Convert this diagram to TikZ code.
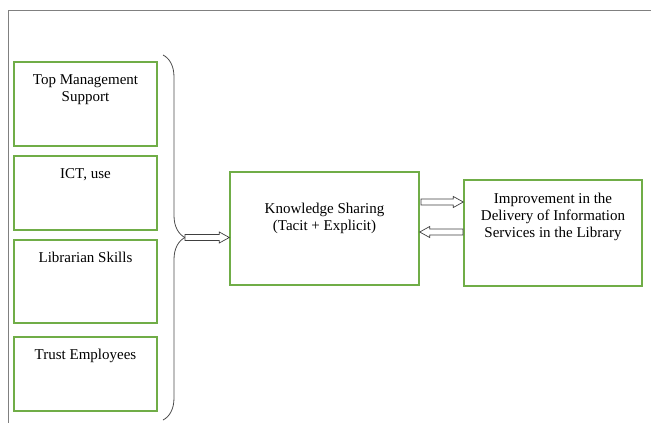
\documentclass[tikz,border=0pt]{standalone}
\usepackage{fontspec}
\setmainfont{Liberation Serif}
\usepackage{tikz}
\usetikzlibrary{calc,positioning,decorations.pathreplacing}

\definecolor{boxgreen}{RGB}{112,173,71}
\tikzset{
  factor/.style={draw=boxgreen, line width=1.4pt, minimum width=143pt, inner sep=0pt},
  txt/.style={align=center, inner sep=0pt, font=\fontsize{15}{17}\selectfont},
  hollow/.style={draw=black!75, line width=0.7pt, fill=white, line join=miter},
}
% block arrow: tail, head, head length (+ right, - left)
\newcommand{\hollowarrow}[3]{%
  \draw[hollow] ($#1+(0,-3)$) -- ($#2+(#3,-3)$) -- ($#2+(#3,-5.5)$) -- #2
    -- ($#2+(#3,5.5)$) -- ($#2+(#3,3)$) -- ($#1+(0,3)$) -- cycle;}

\begin{document}
\begin{tikzpicture}[x=1pt, y=-1pt]
\useasboundingbox (0,0) rectangle (651,423);
\draw[black!50, line width=1pt] (8,423) -- (8,10) -- (651,10);
% left factors
\foreach \n/\cy/\h/\t in {1/104/84/{Top Management\\Support}, 2/193/74/{ICT, use},
    3/281.5/83/{Librarian Skills}, 4/374/74/{Trust Employees}} {
  \node[factor, minimum height=\h] (f\n) at (85.5,\cy) {};
  \node[txt, below=13pt of f\n.north] (t\n) {\t};
}
\draw[black!70, line width=0.8pt, decorate, decoration={brace, amplitude=22pt}] (163,55) -- (163,420);
\coordinate (tip) at (185,237.5);
% middle and right boxes
\node[factor, minimum width=189pt, minimum height=113pt] (ks) at (324.5,228.5) {};
\node[txt, below=32pt of ks.north] (kst) {Knowledge Sharing\\(Tacit + Explicit)};
\node[factor, minimum width=178pt, minimum height=106pt] (imp) at (553,233) {};
\node[txt, below=14pt of imp.north] (impt) {Improvement in the\\Delivery of Information\\Services in the Library};
\coordinate (a1) at (421,202);
\coordinate (a2) at (463,232);
\hollowarrow{(tip)}{(ks.west |- tip)}{-10}
\hollowarrow{(a1)}{(imp.west |- a1)}{-10}
\hollowarrow{(a2)}{(ks.east |- a2)}{10}
\end{tikzpicture}
\end{document}
